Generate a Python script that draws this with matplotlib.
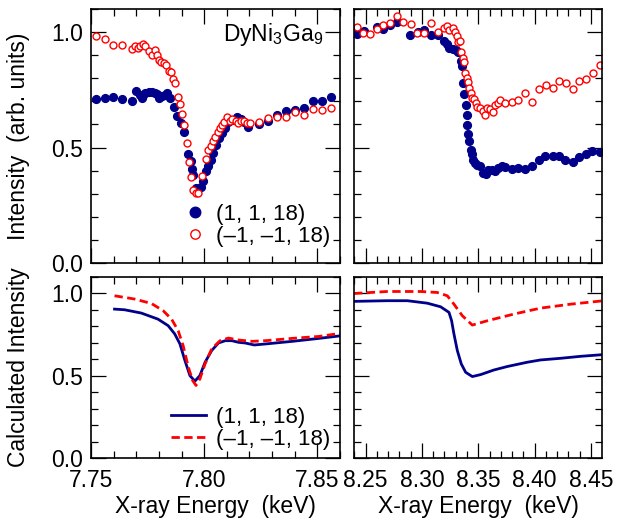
import matplotlib
matplotlib.use("Agg")
import matplotlib.pyplot as plt
from matplotlib.ticker import MultipleLocator

plt.rcParams["font.family"] = ["Liberation Sans", "DejaVu Sans"]
plt.rcParams["mathtext.fontset"] = "custom"
plt.rcParams["mathtext.rm"] = "Liberation Sans"

# --- measured data, low-energy edge (top left) ---
tl_blue_x = [7.7521, 7.7561, 7.7599, 7.7639, 7.7679, 7.7700, 7.7715, 7.7725, 7.7730, 7.7740,
             7.7755, 7.7770, 7.7781, 7.7790, 7.7799, 7.7814, 7.7825, 7.7836, 7.7851, 7.7866,
             7.7878, 7.7899, 7.7910, 7.7930, 7.7940, 7.7944, 7.7952, 7.7965, 7.7984, 7.7996,
             7.8007, 7.8017, 7.8029, 7.8039, 7.8051, 7.8066, 7.8078, 7.8091, 7.8106, 7.8125,
             7.8144, 7.8162, 7.8177, 7.8192, 7.8241, 7.8281, 7.8321, 7.8361, 7.8402, 7.8442,
             7.8482, 7.8522, 7.8559]
tl_blue_y = [0.709, 0.713, 0.720, 0.709, 0.701, 0.745, 0.726, 0.716, 0.729, 0.735,
             0.741, 0.741, 0.735, 0.730, 0.716, 0.723, 0.728, 0.738, 0.716, 0.676,
             0.636, 0.607, 0.567, 0.474, 0.441, 0.407, 0.383, 0.325, 0.329, 0.354,
             0.397, 0.422, 0.448, 0.477, 0.513, 0.542, 0.564, 0.585, 0.610, 0.619,
             0.633, 0.622, 0.610, 0.588, 0.603, 0.617, 0.643, 0.658, 0.661, 0.672,
             0.701, 0.701, 0.720]
tl_red_x = [7.7521, 7.7561, 7.7599, 7.7639, 7.7679, 7.7696, 7.7707, 7.7718, 7.7730, 7.7740,
            7.7755, 7.7770, 7.7781, 7.7792, 7.7802, 7.7811, 7.7824, 7.7833, 7.7845, 7.7854,
            7.7863, 7.7873, 7.7884, 7.7892, 7.7900, 7.7910, 7.7922, 7.7933, 7.7943, 7.7952,
            7.7962, 7.7974, 7.7992, 7.8007, 7.8019, 7.8029, 7.8039, 7.8048, 7.8059, 7.8069,
            7.8078, 7.8088, 7.8100, 7.8113, 7.8125, 7.8140, 7.8150, 7.8162, 7.8174, 7.8189,
            7.8204, 7.8241, 7.8281, 7.8321, 7.8361, 7.8402, 7.8442, 7.8482, 7.8522, 7.8562]
tl_red_y = [0.981, 0.968, 0.946, 0.943, 0.926, 0.938, 0.929, 0.941, 0.948, 0.941,
            0.919, 0.900, 0.923, 0.900, 0.880, 0.871, 0.865, 0.858, 0.832, 0.827,
            0.796, 0.781, 0.719, 0.690, 0.647, 0.596, 0.520, 0.436, 0.373, 0.317,
            0.303, 0.303, 0.375, 0.451, 0.488, 0.506, 0.527, 0.546, 0.567, 0.585,
            0.597, 0.610, 0.633, 0.617, 0.622, 0.614, 0.607, 0.614, 0.614, 0.607,
            0.607, 0.612, 0.629, 0.633, 0.633, 0.654, 0.643, 0.668, 0.662, 0.670]

# --- measured data, high-energy edge (top right) ---
tr_blue_x = [8.2421, 8.2485, 8.2598, 8.2657, 8.2716, 8.2776, 8.2894, 8.2962, 8.3020, 8.3080,
             8.3145, 8.3195, 8.3219, 8.3242, 8.3272, 8.3302, 8.3322, 8.3343, 8.3352, 8.3361,
             8.3373, 8.3388, 8.3397, 8.3402, 8.3411, 8.3420, 8.3435, 8.3441, 8.3455, 8.3470,
             8.3485, 8.3515, 8.3544, 8.3568, 8.3588, 8.3618, 8.3648, 8.3677, 8.3707, 8.3736,
             8.3796, 8.3854, 8.3914, 8.3979, 8.4041, 8.4091, 8.4160, 8.4218, 8.4269, 8.4337,
             8.4396, 8.4455, 8.4506, 8.4579]
tr_blue_y = [0.991, 1.006, 1.020, 1.013, 1.030, 1.045, 0.987, 0.999, 1.010, 0.987,
             0.987, 0.962, 0.948, 0.933, 0.926, 0.923, 0.912, 0.875, 0.853, 0.781,
             0.733, 0.683, 0.643, 0.596, 0.557, 0.527, 0.491, 0.474, 0.448, 0.433,
             0.426, 0.419, 0.390, 0.387, 0.401, 0.404, 0.397, 0.412, 0.419, 0.414,
             0.409, 0.412, 0.409, 0.419, 0.448, 0.465, 0.465, 0.462, 0.448, 0.438,
             0.460, 0.470, 0.484, 0.480]
tr_red_x = [8.2421, 8.2479, 8.2539, 8.2598, 8.2657, 8.2716, 8.2776, 8.2834, 8.2900, 8.2958,
            8.3018, 8.3080, 8.3139, 8.3195, 8.3219, 8.3242, 8.3272, 8.3293, 8.3308, 8.3322,
            8.3337, 8.3349, 8.3361, 8.3373, 8.3382, 8.3397, 8.3406, 8.3420, 8.3432, 8.3441,
            8.3461, 8.3479, 8.3491, 8.3515, 8.3539, 8.3559, 8.3579, 8.3603, 8.3633, 8.3648,
            8.3672, 8.3692, 8.3736, 8.3796, 8.3854, 8.3914, 8.3979, 8.4041, 8.4100, 8.4160,
            8.4218, 8.4278, 8.4337, 8.4396, 8.4455, 8.4515, 8.4579]
tr_red_y = [1.023, 0.994, 0.991, 1.013, 1.030, 1.038, 1.071, 1.045, 1.033, 0.994,
            0.994, 1.039, 1.001, 1.016, 1.025, 1.010, 1.016, 0.999, 0.984, 0.958,
            0.960, 0.912, 0.886, 0.871, 0.825, 0.803, 0.784, 0.760, 0.735, 0.716,
            0.709, 0.694, 0.677, 0.673, 0.658, 0.643, 0.673, 0.665, 0.653, 0.683,
            0.691, 0.704, 0.694, 0.699, 0.706, 0.738, 0.699, 0.755, 0.770, 0.760,
            0.788, 0.778, 0.755, 0.788, 0.796, 0.825, 0.857]

# --- calculated spectra, low-energy edge (bottom left) ---
bl_blue_x = [7.7604, 7.7648, 7.7722, 7.7796, 7.7841, 7.7870, 7.7893, 7.7915, 7.7937, 7.7959,
             7.7981, 7.8004, 7.8033, 7.8063, 7.8093, 7.8122, 7.8152, 7.8181, 7.8221, 7.8270,
             7.8389, 7.8507, 7.8604]
bl_blue_y = [0.905, 0.901, 0.881, 0.844, 0.804, 0.754, 0.693, 0.592, 0.501, 0.467,
             0.501, 0.582, 0.653, 0.699, 0.713, 0.713, 0.703, 0.699, 0.687, 0.693,
             0.709, 0.727, 0.743]
bl_red_x = [7.7604, 7.7693, 7.7767, 7.7819, 7.7856, 7.7885, 7.7907, 7.7930, 7.7949, 7.7964,
            7.7981, 7.8004, 7.8033, 7.8070, 7.8107, 7.8152, 7.8211, 7.8270, 7.8389, 7.8507,
            7.8604]
bl_red_y = [0.986, 0.966, 0.939, 0.895, 0.844, 0.774, 0.683, 0.552, 0.471, 0.441,
            0.481, 0.572, 0.663, 0.713, 0.729, 0.717, 0.709, 0.713, 0.727, 0.739,
            0.758]

# --- calculated spectra, high-energy edge (bottom right) ---
br_blue_x = [8.2397, 8.2692, 8.2870, 8.3047, 8.3166, 8.3240, 8.3263, 8.3284, 8.3314, 8.3349,
             8.3388, 8.3447, 8.3521, 8.3639, 8.3757, 8.3934, 8.4053, 8.4231, 8.4408, 8.4600]
br_blue_y = [0.952, 0.956, 0.956, 0.941, 0.919, 0.885, 0.835, 0.754, 0.653, 0.572,
             0.521, 0.495, 0.507, 0.535, 0.556, 0.582, 0.596, 0.606, 0.618, 0.628]
br_red_x = [8.2397, 8.2692, 8.2988, 8.3136, 8.3225, 8.3284, 8.3358, 8.3447, 8.3580, 8.3817,
            8.4053, 8.4320, 8.4600]
br_red_y = [1.000, 1.012, 1.012, 1.006, 0.986, 0.935, 0.865, 0.808, 0.834, 0.875,
            0.911, 0.935, 0.955]

labels = ["(1, 1, 18)", "(\u20131, \u20131, 18)"]
blue = "#00008b"
red = "#ff0000"
fs = 16.5

fig = plt.figure(figsize=(6.25, 5.21), dpi=100)
ax_tl = fig.add_axes([0.1456, 0.4952, 0.3984, 0.4875])
ax_tr = fig.add_axes([0.5664, 0.4952, 0.3968, 0.4875])
ax_bl = fig.add_axes([0.1456, 0.1209, 0.3984, 0.3474])
ax_br = fig.add_axes([0.5664, 0.1209, 0.3968, 0.3474])

for ax, bx, by, rx, ry in [(ax_tl, tl_blue_x, tl_blue_y, tl_red_x, tl_red_y),
                           (ax_tr, tr_blue_x, tr_blue_y, tr_red_x, tr_red_y)]:
    ax.plot(bx, by, "o", color=blue, ms=5.6, mec=blue, label=labels[0])
    ax.plot(rx, ry, "o", color=red, ms=5.0, mfc="white", mec=red, mew=1.0, label=labels[1])

for ax, bx, by, rx, ry in [(ax_bl, bl_blue_x, bl_blue_y, bl_red_x, bl_red_y),
                           (ax_br, br_blue_x, br_blue_y, br_red_x, br_red_y)]:
    ax.plot(bx, by, "-", color=blue, lw=2.0, label=labels[0])
    ax.plot(rx, ry, "--", color=red, lw=2.0, dashes=(3, 1.6), label=labels[1])

for ax in [ax_tl, ax_bl]:
    ax.set_xlim(7.75, 7.86)
for ax in [ax_tr, ax_br]:
    ax.set_xlim(8.2397, 8.4598)

for ax in [ax_tl, ax_tr, ax_bl, ax_br]:
    ax.set_ylim(0, 1.1)
    ax.xaxis.set_major_locator(MultipleLocator(0.05))
    ax.xaxis.set_minor_locator(MultipleLocator(0.01))
    ax.yaxis.set_major_locator(MultipleLocator(0.5))
    ax.yaxis.set_minor_locator(MultipleLocator(0.1))
    ax.tick_params(which="both", direction="in", top=True, right=True, labelsize=fs, width=0.9)
    ax.tick_params(which="major", length=11, pad=6)
    ax.tick_params(which="minor", length=5.3)
    for s in ax.spines.values():
        s.set_linewidth(1.2)
    ax.yaxis.set_major_formatter(plt.FuncFormatter(lambda v, p: f"{v:.1f}"))
    ax.xaxis.set_major_formatter(plt.FuncFormatter(lambda v, p: f"{v:.2f}"))

ax_tl.tick_params(labelbottom=False)
ax_tr.tick_params(labelbottom=False, labelleft=False)
ax_br.tick_params(labelleft=False)
ax_bl.tick_params(axis="x", pad=8)
ax_br.tick_params(axis="x", pad=8)

ax_tl.text(0.932, 0.874, "DyNi$_\\mathregular{3}$Ga$_\\mathregular{9}$", transform=ax_tl.transAxes,
           ha="right", va="baseline", fontsize=fs)

ax_tl.legend(loc="lower right", bbox_to_anchor=(0.962, 0.062), frameon=False, fontsize=16,
             borderpad=0, borderaxespad=0, labelspacing=0.05, handlelength=1.0,
             handletextpad=0.45, markerscale=1.35)
ax_bl.legend(loc="lower right", bbox_to_anchor=(0.962, 0.046), frameon=False, fontsize=16,
             borderpad=0, borderaxespad=0, labelspacing=0.05, handlelength=1.58,
             handletextpad=0.45)

fig.text(19 / 625, 1 - 136 / 521, "Intensity  (arb. units)", rotation=90, ha="center", va="center", fontsize=fs)
fig.text(19 / 625, 1 - 367 / 521, "Calculated Intensity", rotation=90, ha="center", va="center", fontsize=fs)
fig.text(215 / 625, 0.027, "X-ray Energy  (keV)", ha="center", va="center", fontsize=fs)
fig.text(478 / 625, 0.027, "X-ray Energy  (keV)", ha="center", va="center", fontsize=fs)

fig.savefig("out.png", dpi=100)
